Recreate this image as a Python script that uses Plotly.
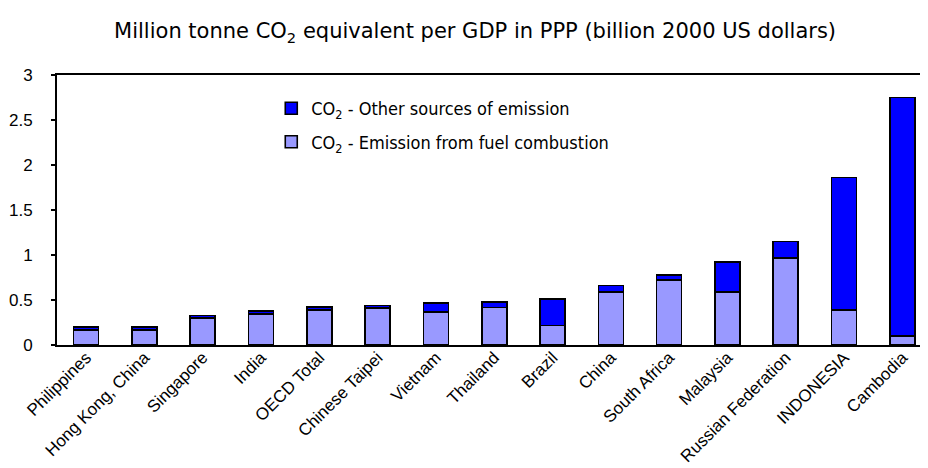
import plotly.graph_objects as go

categories = ["Philippines", "Hong Kong, China", "Singapore", "India", "OECD Total",
              "Chinese Taipei", "Vietnam", "Thailand", "Brazil", "China", "South Africa",
              "Malaysia", "Russian Federation", "INDONESIA", "Cambodia"]
fuel_combustion = [0.17, 0.17, 0.30, 0.345, 0.39, 0.41, 0.37, 0.415, 0.215, 0.59, 0.72,
                   0.59, 0.97, 0.39, 0.10]
other_sources = [0.03, 0.03, 0.03, 0.03, 0.03, 0.03, 0.095, 0.065, 0.295, 0.07, 0.055,
                 0.335, 0.18, 1.47, 2.65]
y_ticks = [0, 0.5, 1, 1.5, 2, 2.5, 3]
y_tick_labels = ["0", "0.5", "1", "1.5", "2", "2.5", "3"]

FONT = "Liberation Sans, Arial, sans-serif"
NARROW = "Liberation Sans Narrow, DejaVu Sans Condensed, Liberation Sans, sans-serif"
WIDE = "DejaVu Sans, Liberation Sans, sans-serif"

W, H = 920, 460  # page body adds an 8px offset

fig = go.Figure()
fig.add_trace(go.Bar(
    x=categories, y=fuel_combustion,
    name="CO<sub>2</sub> - Emission from fuel combustion",
    marker=dict(color="#9999FF", line=dict(color="black", width=1.6)),
    width=0.43, legendgroup="fuel", legendrank=2,
))
fig.add_trace(go.Bar(
    x=categories, y=other_sources,
    name="CO<sub>2</sub> - Other sources of emission",
    marker=dict(color="#0000FF", line=dict(color="black", width=1.6)),
    width=0.43, legendgroup="other", legendrank=1,
))

fig.update_layout(
    width=W, height=H,
    barmode="stack",
    paper_bgcolor="white", plot_bgcolor="white",
    margin=dict(l=49, r=0, t=67, b=123, autoexpand=False),
    font=dict(family=FONT, color="black", size=16),
    title=dict(
        text="Million tonne CO<sub>2</sub> equivalent per GDP in PPP (billion 2000 US dollars)",
        x=0.48, xref="paper", xanchor="center",
        y=1 - 23 / H, yref="container", yanchor="middle",
        font=dict(family=WIDE, size=21, color="black"),
    ),
    legend=dict(
        x=0.246, xanchor="left", y=0.944, yanchor="top",
        traceorder="grouped", tracegroupgap=7,
        font=dict(family=NARROW, size=18, color="black"),
        bgcolor="rgba(0,0,0,0)", borderwidth=0,
    ),
    showlegend=True,
)
fig.update_xaxes(
    range=[-0.5, 14.44],
    showline=True, linecolor="black", linewidth=2, mirror=True,
    showgrid=False, ticks="", tickangle=-45, automargin=False,
    ticklabelstandoff=-6,
    tickfont=dict(family=FONT, size=17, color="black"),
)
fig.update_yaxes(
    range=[0, 3],
    tickvals=y_ticks, ticktext=y_tick_labels,
    showline=True, linecolor="black", linewidth=2,
    showgrid=False, zeroline=False, automargin=False,
    ticks="outside", ticklen=4, tickwidth=2, tickcolor="black",
    ticklabelstandoff=15,
    tickfont=dict(family=FONT, size=17, color="black"),
)

fig.write_html("out.html")
